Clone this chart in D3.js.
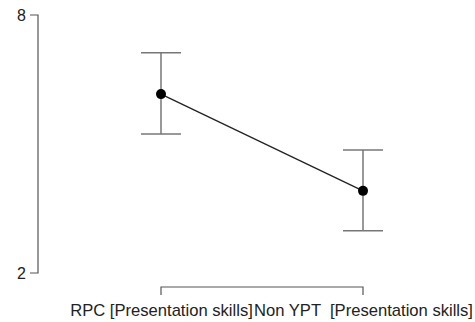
<!DOCTYPE html>
<html>
<head>
<meta charset="utf-8">
<script src="https://cdn.jsdelivr.net/npm/d3@7"></script>
<style>
  html, body { margin: 0; padding: 0; background: #fff; }
  svg { display: block; font-family: "Liberation Sans", Arial, sans-serif; }
</style>
</head>
<body>
<svg id="chart" width="475" height="322"></svg>
<script>
// Group labels and estimated marginal means with their confidence limits
const groups = ["RPC [Presentation skills]", "Non YPT  [Presentation skills]"];
const means = [6.16, 3.91];
const lower = [5.23, 2.98];
const upper = [7.12, 4.86];
const yTicks = [2, 8];

const svg = d3.select("#chart");

const x = d3.scalePoint().domain(groups).range([161, 363]);
const y = d3.scaleLinear().domain([2, 8]).range([273, 15]);

const data = groups.map((g, i) => ({ g, m: means[i], lo: lower[i], hi: upper[i] }));

// Y axis: bare spine with end ticks
const yAxis = svg.append("g").attr("transform", "translate(38,0)")
  .call(d3.axisLeft(y).tickValues(yTicks).tickSize(8).tickPadding(4).tickFormat(d3.format("d")));
yAxis.attr("font-size", null).attr("font-family", null);
yAxis.select(".domain").attr("d", `M-8,${y(8)}H0V${y(2)}H-8`).attr("stroke", "#555").attr("stroke-width", 1.2);
yAxis.selectAll(".tick line").remove();
yAxis.selectAll(".tick text").style("font-size", "16px").attr("fill", "#222");

// X axis: bracket spanning the two groups
const xAxis = svg.append("g").attr("transform", "translate(0,287)")
  .call(d3.axisBottom(x).tickSize(0).tickPadding(17));
xAxis.attr("font-size", null).attr("font-family", null);
xAxis.select(".domain")
  .attr("d", `M${x(groups[0])},8V0H${x(groups[1])}V8`)
  .attr("stroke", "#555").attr("stroke-width", 1.2).attr("fill", "none");
xAxis.selectAll(".tick text").style("font-size", "16.6px").attr("fill", "#222")
  .style("white-space", "pre");

// Error bars
const eb = svg.append("g").attr("stroke", "#777").attr("stroke-width", 1.5).attr("fill", "none");
data.forEach(d => {
  const cx = x(d.g);
  eb.append("line").attr("x1", cx).attr("x2", cx).attr("y1", y(d.hi)).attr("y2", y(d.lo));
  eb.append("line").attr("x1", cx - 20).attr("x2", cx + 20).attr("y1", y(d.hi)).attr("y2", y(d.hi));
  eb.append("line").attr("x1", cx - 20).attr("x2", cx + 20).attr("y1", y(d.lo)).attr("y2", y(d.lo));
});

// Connecting line between means
svg.append("path")
  .datum(data)
  .attr("fill", "none").attr("stroke", "#222").attr("stroke-width", 1.3)
  .attr("d", d3.line().x(d => x(d.g)).y(d => y(d.m)));

// Mean points
svg.append("g").selectAll("circle").data(data).join("circle")
  .attr("cx", d => x(d.g)).attr("cy", d => y(d.m)).attr("r", 5)
  .attr("fill", "#000");
</script>
</body>
</html>
